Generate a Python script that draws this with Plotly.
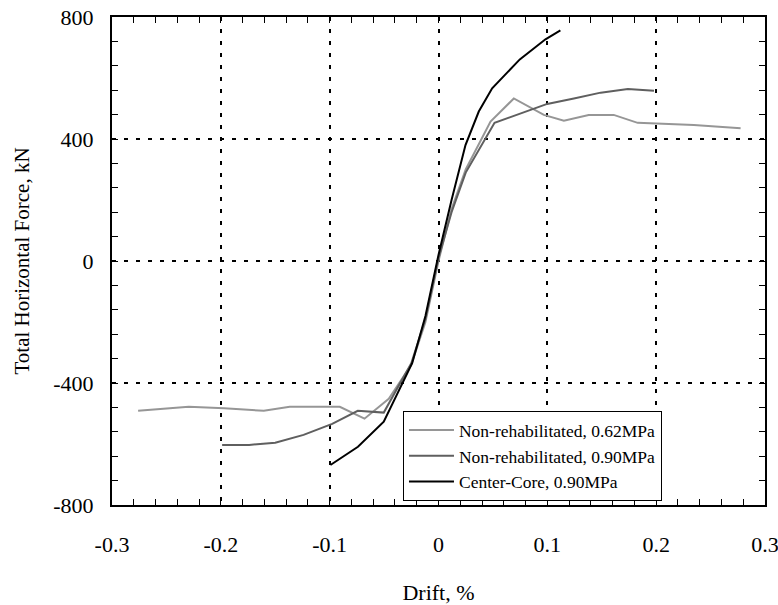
import plotly.graph_objects as go

# Non-rehabilitated, 0.62MPa
d1 = [-0.276, -0.2295, -0.197, -0.1605, -0.1367, -0.0907, -0.068, -0.0457, -0.025, -0.012, 0.0, 0.012, 0.025, 0.0478, 0.0692, 0.0968, 0.1152, 0.138, 0.161, 0.183, 0.2346, 0.2776]
f1 = [-491, -478, -483, -491, -478, -478, -517, -452, -340, -200, 0, 170, 300, 457, 533, 479, 460, 479, 479, 453, 446, 435]
# Non-rehabilitated, 0.90MPa
d2 = [-0.1988, -0.174, -0.15, -0.124, -0.0977, -0.0742, -0.0503, -0.025, -0.012, 0.0, 0.012, 0.025, 0.0515, 0.0754, 0.0999, 0.1244, 0.149, 0.174, 0.198]
f2 = [-603, -603, -596, -570, -534, -491, -497, -335, -190, 10, 160, 290, 453, 484, 515, 533, 552, 564, 558]
# Center-Core, 0.90MPa
d3 = [-0.0993, -0.074, -0.0503, -0.0242, -0.012, 0.0, 0.012, 0.0248, 0.037, 0.0493, 0.0747, 0.0983, 0.112]
f3 = [-669, -609, -527, -335, -180, 20, 200, 380, 490, 566, 661, 727, 756]

names = ["Non-rehabilitated, 0.62MPa", "Non-rehabilitated, 0.90MPa", "Center-Core, 0.90MPa"]
colors = ["#969696", "#5f5f5f", "#000000"]

x_ticks = [-0.3, -0.2, -0.1, 0.0, 0.1, 0.2, 0.3]
x_labels = ["-0.3", "-0.2", "-0.1", "0", "0.1", "0.2", "0.3"]
y_ticks = [-800, -400, 0, 400, 800]
y_labels = ["-800", "-400", "0", "400", "800"]

fig = go.Figure()
for d, f, n, c in zip([d1, d2, d3], [f1, f2, f3], names, colors):
    fig.add_trace(go.Scatter(x=d, y=f, mode="lines", name=n, line=dict(color=c, width=2)))

SERIF = "Liberation Serif, Times New Roman, serif"
tickfont = dict(family=SERIF, color="black", size=22)
axis_common = dict(
    showline=True, linecolor="black", linewidth=2, mirror="allticks",
    ticks="inside", ticklen=6, tickcolor="black", tickwidth=1,
    showgrid=True, gridcolor="black", gridwidth=2, griddash="4px,8px",
    zeroline=False, tickfont=tickfont, tickmode="array", automargin=False,
    ticklabeloverflow="allow",
)
fig.update_xaxes(range=[-0.3, 0.3], tickvals=x_ticks, ticktext=x_labels,
                 ticklabelstandoff=19,
                 minor=dict(dtick=0.02, tick0=-0.3, ticks="inside", ticklen=6, tickcolor="black", tickwidth=1, showgrid=False),
                 title=dict(text="Drift, %", font=dict(family=SERIF, color="black", size=22), standoff=38), **axis_common)
fig.update_yaxes(range=[-800, 800], tickvals=y_ticks, ticktext=y_labels,
                 ticklabelstandoff=12,
                 minor=dict(dtick=80, tick0=-800, ticks="inside", ticklen=6, tickcolor="black", tickwidth=1, showgrid=False),
                 title=dict(text="Total Horizontal Force, kN", font=dict(family=SERIF, color="black", size=21), standoff=18), **axis_common)

fig.update_layout(
    width=778, height=605,
    margin=dict(l=112, r=13, t=17, b=100),
    plot_bgcolor="white", paper_bgcolor="white",
    font=tickfont,
    showlegend=True,
    legend=dict(x=0.4456, y=0.1, xanchor="left", yanchor="middle",
                bgcolor="white", bordercolor="black", borderwidth=1,
                font=dict(family=SERIF, size=17.5, color="black"),
                tracegroupgap=0, itemwidth=45),
)
fig.write_html("out.html")
